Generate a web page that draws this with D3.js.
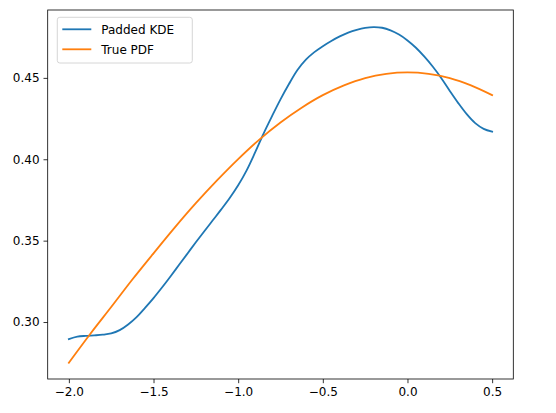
<html>
<head>
<meta charset="utf-8">
<title>Padded KDE vs True PDF</title>
<style>
  body{margin:0;background:#fff;}
  text{font-family:"DejaVu Sans",sans-serif;}
</style>
<script src="https://d3js.org/d3.v7.min.js"></script>
</head>
<body>
<script>
// values
var kdeX = [-2.0,-1.95,-1.9,-1.85,-1.8,-1.75,-1.7,-1.65,-1.6,-1.55,-1.5,-1.45,-1.4,-1.35,-1.3,-1.25,-1.2,-1.15,-1.1,-1.05,
            -1.0,-0.95,-0.9,-0.85,-0.8,-0.75,-0.7,-0.65,-0.6,-0.55,-0.5,-0.45,-0.4,-0.35,-0.3,-0.25,-0.2,-0.15,-0.1,-0.05,
            0.0,0.05,0.1,0.15,0.2,0.25,0.3,0.35,0.4,0.45,0.5];
var kdeY = [0.2895,0.2910,0.2915,0.2918,0.2922,0.2930,0.2950,0.2985,0.3030,0.3087,0.3147,0.3212,0.3280,0.3350,0.3420,0.3490,0.3558,0.3625,0.3692,0.3762,
            0.3840,0.3932,0.4042,0.4158,0.4265,0.4368,0.4462,0.4548,0.4612,0.4658,0.4695,0.4727,0.4755,0.4778,0.4795,0.4807,0.4812,0.4808,0.4792,0.4766,
            0.4730,0.4685,0.4630,0.4568,0.4498,0.4420,0.4345,0.4277,0.4222,0.4187,0.4170];

var pdfX = [-2.0,-1.875,-1.75,-1.625,-1.5,-1.375,-1.25,-1.125,-1.0,-0.875,-0.75,-0.625,-0.5,-0.375,-0.25,-0.125,0.0,0.125,0.25,0.375,0.5];
var pdfY = [0.2750,0.2925,0.3092,0.3261,0.3422,0.3580,0.3730,0.3870,0.4001,0.4121,0.4226,0.4317,0.4394,0.4454,0.4499,0.4525,0.4534,0.4525,0.4499,0.4454,0.4394];

var xTicks = [-2.0,-1.5,-1.0,-0.5,0.0,0.5];
var yTicks = [0.30,0.35,0.40,0.45];
var seriesNames = ["Padded KDE","True PDF"];
var colors = ["#1f77b4","#ff7f0e"];

var W = 556, H = 413;
var margin = {left:47.7, right:556-513.3, top:10, bottom:413-379};

var svg = d3.select("body").append("svg")
            .attr("width",W)
            .attr("height",H);

var x = d3.scaleLinear().domain([-2.125,0.625]).range([margin.left, W-margin.right]);
var y = d3.scaleLinear().domain([0.2650,0.4917]).range([H-margin.bottom, margin.top]);

var line = d3.line()
             .x(d=>x(d[0]))
             .y(d=>y(d[1]))
             .curve(d3.curveCatmullRom);

var kde = kdeX.map((v,i)=>[v,kdeY[i]]);
var pdf = pdfX.map((v,i)=>[v,pdfY[i]]);

[kde,pdf].forEach((s,i)=>{
  svg.append("path")
     .datum(s)
     .attr("d",line)
     .attr("fill","none")
     .attr("stroke",colors[i])
     .attr("stroke-width",1.8)
     .attr("stroke-linecap","square");
});

// axes
var xAxis = d3.axisBottom(x).tickValues(xTicks).tickSize(4.2).tickPadding(4)
              .tickFormat(d=>d3.format(".1f")(d).replace("-","\u2212"));
var yAxis = d3.axisLeft(y).tickValues(yTicks).tickSize(4.2).tickPadding(4)
              .tickFormat(d3.format(".2f"));

var gx = svg.append("g").attr("transform","translate(0,"+(H-margin.bottom)+")").call(xAxis);
var gy = svg.append("g").attr("transform","translate("+margin.left+",0)").call(yAxis);
[gx,gy].forEach(g=>{
  g.select(".domain").remove();
  g.selectAll("line").attr("stroke","#000").attr("stroke-width",0.8);
  g.selectAll("text").style("font-size","12px").attr("fill","#000");
});

// frame
svg.append("rect")
   .attr("x",margin.left).attr("y",margin.top)
   .attr("width",W-margin.left-margin.right)
   .attr("height",H-margin.top-margin.bottom)
   .attr("fill","none").attr("stroke","#000").attr("stroke-width",0.8);

// legend
var lg = svg.append("g").attr("transform","translate(57.3,17.3)");
lg.append("rect")
  .attr("width",135).attr("height",45.7)
  .attr("rx",2.5)
  .attr("fill","#fff").attr("fill-opacity",0.8)
  .attr("stroke","#cccccc").attr("stroke-width",0.8);
var items = lg.selectAll(".item").data(seriesNames).enter().append("g")
              .attr("transform",(d,i)=>"translate(0,"+(12+20*i)+")");
items.append("line")
     .attr("x1",5).attr("x2",34)
     .attr("stroke",(d,i)=>colors[i]).attr("stroke-width",1.8);
items.append("text")
     .text(d=>d)
     .attr("x",44).attr("dy","0.35em")
     .style("font-size","12px");
</script>
</body>
</html>
